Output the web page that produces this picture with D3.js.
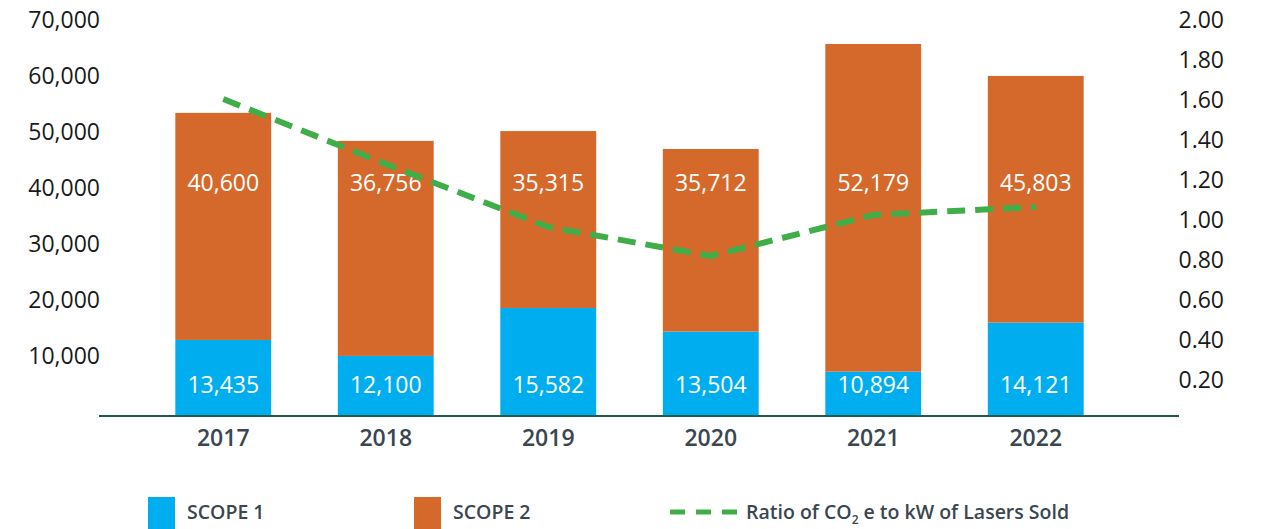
<!DOCTYPE html>
<html>
<head>
<meta charset="utf-8">
<script src="https://cdn.jsdelivr.net/npm/d3@7"></script>
<style>
  body { margin: 0; background: #fff; }
  text { font-family: "Open Sans", sans-serif; }
</style>
</head>
<body>
<svg width="1262" height="529"></svg>
<script>
var years = ["2017", "2018", "2019", "2020", "2021", "2022"];
// bar heights as drawn in the picture
var scope1 = [13400, 10550, 19100, 14900, 7750, 16500];
var scope2 = [40550, 38400, 31600, 32600, 58500, 44050];
// printed values
var scope1Labels = ["13,435", "12,100", "15,582", "13,504", "10,894", "14,121"];
var scope2Labels = ["40,600", "36,756", "35,315", "35,712", "52,179", "45,803"];
var ratio = [1.605, 1.28, 0.965, 0.82, 1.025, 1.065];
var leftTicks = [10000, 20000, 30000, 40000, 50000, 60000, 70000];
var rightTicks = [0.2, 0.4, 0.6, 0.8, 1.0, 1.2, 1.4, 1.6, 1.8, 2.0];

var svg = d3.select("svg");

var x = d3.scaleBand().domain(years).range([142, 1117])
    .paddingInner(0.41).paddingOuter(0.205);
var y = d3.scaleLinear().domain([0, 70000]).range([415, 23]);
var y2 = d3.scaleLinear().domain([0, 2]).range([420, 20]);

var blue = "#00aeef", orange = "#d5692b", green = "#3fae49";

// left axis labels
var left = svg.append("g").attr("transform", "translate(100,0)")
    .call(d3.axisLeft(y).tickValues(leftTicks).tickSize(0).tickPadding(0)
      .tickFormat(d3.format(",")));
left.select(".domain").remove();
left.selectAll("text").attr("y", -3).style("font-size", "23px")
    .style("font-family", "Open Sans").attr("fill", "#1a1a1a");

// right axis labels
var right = svg.append("g").attr("transform", "translate(1224,0)")
    .call(d3.axisLeft(y2).tickValues(rightTicks).tickSize(0).tickPadding(0)
      .tickFormat(d3.format(".2f")));
right.select(".domain").remove();
right.selectAll("text").style("font-size", "23px")
    .style("font-family", "Open Sans").attr("fill", "#1a1a1a");

// bars
var g = svg.append("g");
g.selectAll(".s1").data(years).enter().append("rect")
    .attr("x", function(d) { return x(d); })
    .attr("width", x.bandwidth())
    .attr("y", function(d, i) { return y(scope1[i]); })
    .attr("height", function(d, i) { return y(0) - y(scope1[i]); })
    .attr("fill", blue);
g.selectAll(".s2").data(years).enter().append("rect")
    .attr("x", function(d) { return x(d); })
    .attr("width", x.bandwidth())
    .attr("y", function(d, i) { return y(scope1[i] + scope2[i]); })
    .attr("height", function(d, i) { return y(scope1[i]) - y(scope1[i] + scope2[i]); })
    .attr("fill", orange);

// bar labels
g.selectAll(".l1").data(years).enter().append("text")
    .attr("x", function(d) { return x(d) + x.bandwidth() / 2; })
    .attr("y", y(5400)).attr("dy", "0.35em")
    .attr("text-anchor", "middle").attr("fill", "#fff")
    .style("font-size", "23px")
    .text(function(d, i) { return scope1Labels[i]; });
g.selectAll(".l2").data(years).enter().append("text")
    .attr("x", function(d) { return x(d) + x.bandwidth() / 2; })
    .attr("y", y(41500)).attr("dy", "0.35em")
    .attr("text-anchor", "middle").attr("fill", "#fff")
    .style("font-size", "23px")
    .text(function(d, i) { return scope2Labels[i]; });

// x axis line and years
svg.append("line").attr("x1", 99).attr("x2", 1179)
    .attr("y1", 416).attr("y2", 416)
    .attr("stroke", "#1d5e46").attr("stroke-width", 2);
var bottom = svg.append("g").attr("transform", "translate(0,416)")
    .call(d3.axisBottom(x).tickSize(0).tickPadding(0));
bottom.select(".domain").remove();
bottom.selectAll("text").attr("y", 22).attr("dy", "0.35em")
    .style("font-size", "23px").style("font-weight", 600)
    .style("font-family", "Open Sans").attr("fill", "#3a4650");

// ratio line
var line = d3.line()
    .x(function(d, i) { return x(years[i]) + x.bandwidth() / 2; })
    .y(function(d) { return y2(d); });
svg.append("path").datum(ratio)
    .attr("d", line).attr("fill", "none")
    .attr("stroke", green).attr("stroke-width", 6)
    .attr("stroke-linejoin", "round")
    .attr("stroke-dasharray", "18,10");

// legend
var leg = svg.append("g");
leg.append("rect").attr("x", 148).attr("y", 497).attr("width", 27).attr("height", 32).attr("fill", blue);
leg.append("text").attr("x", 187).attr("y", 519).text("SCOPE 1");
leg.append("rect").attr("x", 414).attr("y", 497).attr("width", 27).attr("height", 32).attr("fill", orange);
leg.append("text").attr("x", 453).attr("y", 519).text("SCOPE 2");
leg.append("line").attr("x1", 670).attr("x2", 737).attr("y1", 512).attr("y2", 512)
    .attr("stroke", green).attr("stroke-width", 5).attr("stroke-dasharray", "15,11");
var rt = leg.append("text").attr("x", 746).attr("y", 519);
rt.append("tspan").text("Ratio of CO");
rt.append("tspan").attr("dy", 5).attr("class", "sub").text("2");
rt.append("tspan").attr("dy", -5).text(" e to kW of Lasers Sold");
leg.selectAll("text").style("font-size", "19.5px").style("font-weight", 600).attr("fill", "#3a4650");
rt.select(".sub").style("font-size", "12px");
</script>
</body>
</html>
